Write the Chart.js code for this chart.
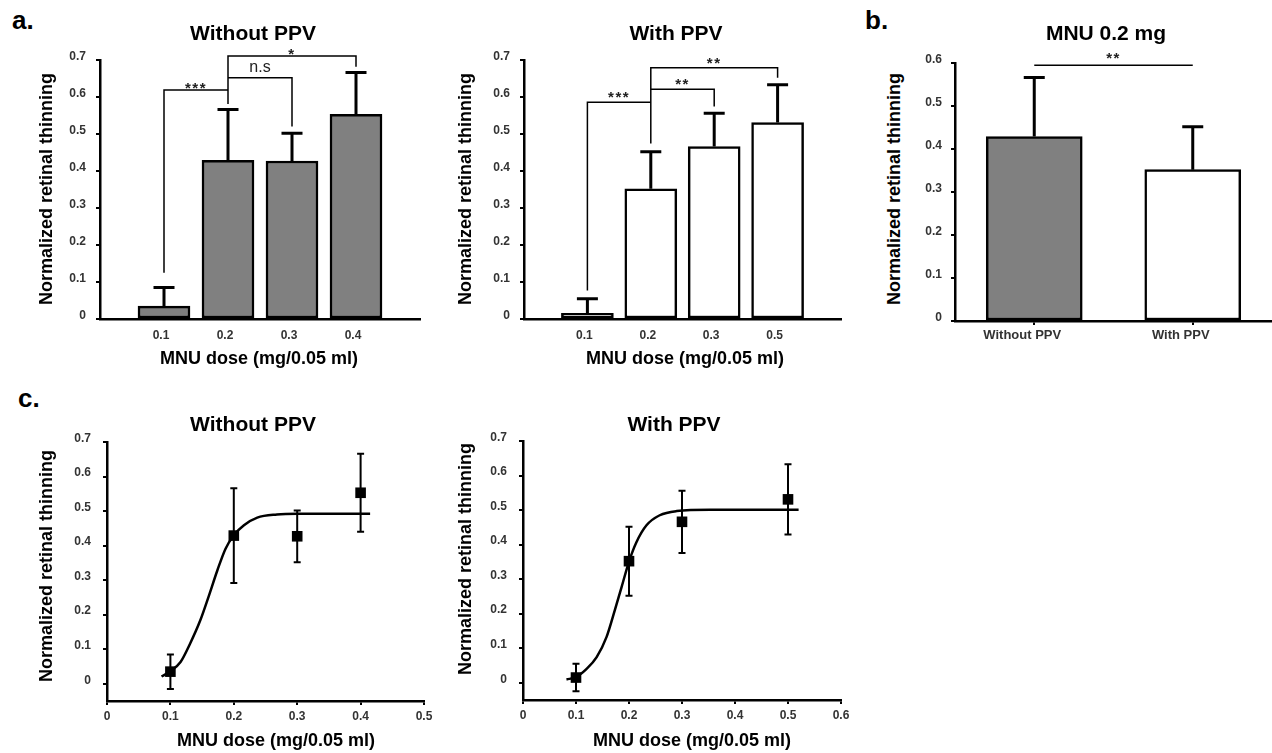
<!DOCTYPE html>
<html>
<head>
<meta charset="utf-8">
<script src="https://cdn.jsdelivr.net/npm/chart.js@4.4.1/dist/chart.umd.min.js"></script>
<style>
html,body{margin:0;padding:0;background:#fff;overflow:hidden;width:1272px;height:753px}
#wrap{position:relative;width:1272px;height:753px;background:#fff}
canvas{position:absolute}
.t{position:absolute;white-space:nowrap;font-family:'Liberation Sans',Arial,sans-serif;font-weight:bold;color:#000;line-height:1;transform:translate(-50%,-50%)}
.lt{transform:translate(0,-50%)}
.r{transform:translate(-50%,-50%) rotate(-90deg)}
</style>
</head>
<body>
<div id="wrap">
<canvas id="a1"></canvas>
<canvas id="a2"></canvas>
<canvas id="b1"></canvas>
<canvas id="c1"></canvas>
<canvas id="c2"></canvas>

<div class="t lt" style="left:12px;top:20px;font-size:26px">a.</div>
<div class="t lt" style="left:865px;top:20px;font-size:26px">b.</div>
<div class="t lt" style="left:18px;top:398px;font-size:26px">c.</div>

<div class="t" style="left:253px;top:32px;font-size:21px">Without PPV</div>
<div class="t" style="left:676px;top:32px;font-size:21px">With PPV</div>
<div class="t" style="left:1106px;top:32px;font-size:21px">MNU 0.2 mg</div>
<div class="t" style="left:253px;top:423px;font-size:21px">Without PPV</div>
<div class="t" style="left:674px;top:423px;font-size:21px">With PPV</div>

<div class="t r" style="left:45.5px;top:189px;font-size:18px">Normalized retinal thinning</div>
<div class="t r" style="left:465px;top:189px;font-size:18px">Normalized retinal thinning</div>
<div class="t r" style="left:894px;top:189px;font-size:18px">Normalized retinal thinning</div>
<div class="t r" style="left:45.5px;top:566px;font-size:18px">Normalized retinal thinning</div>
<div class="t r" style="left:465px;top:559px;font-size:18px">Normalized retinal thinning</div>

<div class="t" style="left:259px;top:358px;font-size:18px">MNU dose (mg/0.05 ml)</div>
<div class="t" style="left:685px;top:358px;font-size:18px">MNU dose (mg/0.05 ml)</div>
<div class="t" style="left:276px;top:740px;font-size:18px">MNU dose (mg/0.05 ml)</div>
<div class="t" style="left:692px;top:740px;font-size:18px">MNU dose (mg/0.05 ml)</div>
</div>

<script>
// ---------------- data ----------------
const doseLabelsWithout = ['0.1', '0.2', '0.3', '0.4'];
const doseLabelsWith = ['0.1', '0.2', '0.3', '0.5'];
const doseWithout = [0.1, 0.2, 0.3, 0.4];
const doseWith = [0.1, 0.2, 0.3, 0.5];
const meanWithout = [0.035, 0.429, 0.427, 0.553];
const errWithout = [0.05, 0.137, 0.075, 0.113];
const meanWith = [0.015, 0.352, 0.466, 0.531];
const errWith = [0.04, 0.10, 0.09, 0.102];
const groupLabels = ['Without PPV', 'With PPV'];

const yTicksA = [0, 0.1, 0.2, 0.3, 0.4, 0.5, 0.6, 0.7];
const yTicksB = [0, 0.1, 0.2, 0.3, 0.4, 0.5, 0.6];
const xTicksC1 = [0, 0.1, 0.2, 0.3, 0.4, 0.5];
const xTicksC2 = [0, 0.1, 0.2, 0.3, 0.4, 0.5, 0.6];

// fitted curves
const fitWithoutX = [0.086, 0.100, 0.116, 0.131, 0.147, 0.160, 0.174, 0.187, 0.200, 0.216, 0.237, 0.268, 0.300, 0.350, 0.415];
const fitWithoutY = [0.021, 0.036, 0.063, 0.116, 0.183, 0.251, 0.328, 0.391, 0.430, 0.459, 0.481, 0.490, 0.492, 0.492, 0.492];
const fitWithX = [0.082, 0.0995, 0.120, 0.139, 0.1575, 0.173, 0.186, 0.200, 0.214, 0.233, 0.258, 0.290, 0.353, 0.520];
const fitWithY = [0.0096, 0.016, 0.040, 0.074, 0.132, 0.209, 0.277, 0.351, 0.407, 0.456, 0.485, 0.497, 0.501, 0.501];

// significance brackets
const sigWithout = [
  {from: '0.1', to: '0.2', base: 0.125, top: 0.619, end: 0.619, text: '***'},
  {from: '0.2', to: '0.3', base: 0.652, top: 0.652, end: 0.520, text: 'n.s'},
  {from: '0.2', to: '0.4', base: 0.581, top: 0.711, end: 0.682, text: '*'}
];
const sigWith = [
  {from: '0.1', to: '0.2', base: 0.077, top: 0.586, end: 0.586, text: '***'},
  {from: '0.2', to: '0.3', base: 0.621, top: 0.621, end: 0.574, text: '**'},
  {from: '0.2', to: '0.5', base: 0.474, top: 0.679, end: 0.652, text: '**'}
];
const sigGroups = [
  {from: 'Without PPV', to: 'With PPV', base: 0.595, top: 0.595, end: 0.595, text: '**'}
];

// ---------------- layout / style ----------------
const FONT = "'Liberation Sans', Arial, sans-serif";
Chart.defaults.font.family = FONT;
const TICK_COLOR = '#333';
const GRAY = '#808080';

const layout = {
  a1: {l: 100, t: 60, r: 420, b: 319, padT: 50, padR: 8, wy: 50, hx: 30},
  a2: {l: 524, t: 60, r: 841, b: 319, padT: 50, padR: 8, wy: 50, hx: 30},
  b1: {l: 955, t: 63, r: 1272, b: 321, padT: 50, padR: 0, wy: 50, hx: 30},
  c1: {l: 107, t: 442, r: 424, b: 701, padT: 10, padR: 12, wy: 50, hx: 30},
  c2: {l: 523, t: 441, r: 841, b: 700, padT: 10, padR: 12, wy: 50, hx: 30}
};

function placeCanvas(id) {
  const g = layout[id];
  const c = document.getElementById(id);
  const w = (g.r - g.l) + g.wy + g.padR;
  const h = (g.b - g.t) + g.padT + g.hx;
  c.width = w; c.height = h;
  c.style.width = w + 'px'; c.style.height = h + 'px';
  c.style.left = (g.l - g.wy) + 'px';
  c.style.top = (g.t - g.padT) + 'px';
  return c;
}

const marks = {
  id: 'marks',
  afterDatasetsDraw(chart, args, o) {
    const ctx = chart.ctx, xs = chart.scales.x, ys = chart.scales.y;
    const labels = chart.data.labels || [];
    const px = v => typeof v === 'string' ? xs.getPixelForValue(labels.indexOf(v)) : xs.getPixelForValue(v);
    ctx.save();
    ctx.strokeStyle = '#000';
    ctx.lineCap = 'butt';
    if (o.err) {
      const e = o.err;
      ctx.lineWidth = e.lw;
      e.x.forEach((xv, i) => {
        const x = px(xv);
        const yTop = ys.getPixelForValue(e.y[i] + e.e[i]);
        const yBot = ys.getPixelForValue(e.both ? e.y[i] - e.e[i] : e.y[i]);
        ctx.beginPath();
        ctx.moveTo(x, yBot); ctx.lineTo(x, yTop);
        ctx.moveTo(x - e.cap / 2, yTop); ctx.lineTo(x + e.cap / 2, yTop);
        if (e.both) { ctx.moveTo(x - e.cap / 2, yBot); ctx.lineTo(x + e.cap / 2, yBot); }
        ctx.stroke();
      });
    }
    if (o.sig) {
      ctx.lineWidth = o.sigLw;
      ctx.lineJoin = 'miter';
      o.sig.forEach(s => {
        const x1 = px(s.from), x2 = px(s.to);
        const yb = ys.getPixelForValue(s.base), yt = ys.getPixelForValue(s.top), ye = ys.getPixelForValue(s.end);
        ctx.beginPath();
        ctx.moveTo(x1, yb); ctx.lineTo(x1, yt); ctx.lineTo(x2, yt); ctx.lineTo(x2, ye);
        ctx.stroke();
        const star = /^\*+$/.test(s.text);
        ctx.fillStyle = '#222';
        ctx.textAlign = 'center';
        ctx.textBaseline = 'alphabetic';
        if (star) {
          ctx.font = 'bold 15px ' + FONT;
          ctx.letterSpacing = '1.5px';
          ctx.fillText(s.text, (x1 + x2) / 2, yt - o.gap + 0.57 * 15);
        } else {
          ctx.font = '16px ' + FONT;
          ctx.letterSpacing = '0px';
          ctx.fillText(s.text, (x1 + x2) / 2, yt - o.gap);
        }
      });
    }
    ctx.restore();
  }
};

function yAxis(id, min, max, ticks, pad, tickLen) {
  const g = layout[id];
  return {
    type: 'linear', min, max,
    afterBuildTicks: s => { s.ticks = ticks.map(v => ({value: v})); },
    afterFit: s => { s.width = g.wy; s.paddingTop = 0; s.paddingBottom = 0; },
    ticks: {callback: v => String(v), font: {size: 12, weight: 'bold'}, color: TICK_COLOR, padding: pad, labelOffset: -3.5},
    grid: {display: true, drawOnChartArea: false, drawTicks: true, tickLength: tickLen, color: '#000', lineWidth: 2},
    border: {display: true, color: '#000', width: 2.5}
  };
}

function xAfterFit(id) {
  const g = layout[id];
  return s => { s.height = g.hx; s.paddingLeft = 0; s.paddingRight = 0; };
}

function commonOpts(id) {
  const g = layout[id];
  return {
    responsive: false, animation: false, devicePixelRatio: 1,
    layout: {padding: {top: g.padT, right: g.padR, left: 0, bottom: 0}},
  };
}

function barPanel(id, doseLabels, means, errs, fill, sig, gap) {
  const labels = [''].concat(doseLabels, ['']);
  const data = [null].concat(means, [null]);
  const c = placeCanvas(id);
  return new Chart(c, {
    type: 'bar',
    data: {labels, datasets: [{data, backgroundColor: fill, borderColor: '#000', borderWidth: 2.5, borderSkipped: false, barThickness: 52}]},
    options: Object.assign(commonOpts(id), {
      scales: {
        x: {type: 'category', offset: false,
            afterFit: xAfterFit(id),
            grid: {display: false, drawTicks: false, offset: false},
            border: {display: true, color: '#000', width: 2.5},
            ticks: {font: {size: 12, weight: 'bold'}, color: TICK_COLOR, padding: 9, labelOffset: -3, maxRotation: 0, minRotation: 0, autoSkip: false}},
        y: yAxis(id, 0, 0.7, yTicksA, 10, 4)
      },
      plugins: {
        legend: {display: false}, tooltip: {enabled: false},
        marks: {err: {x: doseLabels, y: means, e: errs, both: false, cap: 21, lw: 3}, sig, sigLw: 1.5, gap}
      }
    }),
    plugins: [marks]
  });
}

barPanel('a1', doseLabelsWithout, meanWithout, errWithout, GRAY, sigWithout, 5.5);
barPanel('a2', doseLabelsWith, meanWith, errWith, '#fff', sigWith, 8.5);

// panel b
(function () {
  const id = 'b1';
  const c = placeCanvas(id);
  const means = [meanWithout[1], meanWith[1]];
  const errs = [errWithout[1], errWith[1]];
  new Chart(c, {
    type: 'bar',
    data: {labels: groupLabels, datasets: [{data: means, backgroundColor: [GRAY, '#fff'], borderColor: '#000', borderWidth: 2.5, borderSkipped: false, barThickness: 96}]},
    options: Object.assign(commonOpts(id), {
      scales: {
        x: {type: 'category', offset: true,
            afterFit: xAfterFit(id),
            grid: {display: true, drawOnChartArea: false, drawTicks: true, tickLength: 4, color: '#000', lineWidth: 2, offset: false},
            border: {display: true, color: '#000', width: 2.5},
            ticks: {font: {size: 13, weight: 'bold'}, color: TICK_COLOR, padding: 3, labelOffset: -12, maxRotation: 0, minRotation: 0, autoSkip: false}},
        y: yAxis(id, 0, 0.6, yTicksB, 9, 4)
      },
      plugins: {
        legend: {display: false}, tooltip: {enabled: false},
        marks: {err: {x: groupLabels, y: means, e: errs, both: false, cap: 21, lw: 3}, sig: sigGroups, sigLw: 1.5, gap: 10.5}
      }
    }),
    plugins: [marks]
  });
})();

function curvePanel(id, xmax, xTicks, doses, means, errs, fitX, fitY) {
  const c = placeCanvas(id);
  new Chart(c, {
    type: 'line',
    data: {datasets: [
      {data: fitX.map((x, i) => ({x, y: fitY[i]})), borderColor: '#000', borderWidth: 2.5, pointRadius: 0, cubicInterpolationMode: 'monotone', fill: false},
      {data: doses.map((x, i) => ({x, y: means[i]})), showLine: false, pointStyle: 'rect', pointRadius: 7.5, backgroundColor: '#000', borderWidth: 0}
    ]},
    options: Object.assign(commonOpts(id), {
      scales: {
        x: {type: 'linear', min: 0, max: xmax,
            afterBuildTicks: s => { s.ticks = xTicks.map(v => ({value: v})); },
            afterFit: xAfterFit(id),
            grid: {display: true, drawOnChartArea: false, drawTicks: true, tickLength: 4, color: '#000', lineWidth: 2},
            border: {display: true, color: '#000', width: 2.5},
            ticks: {callback: v => String(v), font: {size: 12, weight: 'bold'}, color: TICK_COLOR, padding: 4, maxRotation: 0, minRotation: 0, autoSkip: false}},
        y: yAxis(id, -0.05, 0.7, yTicksA, 12, 4)
      },
      plugins: {
        legend: {display: false}, tooltip: {enabled: false},
        marks: {err: {x: doses, y: means, e: errs, both: true, cap: 7, lw: 2}}
      }
    }),
    plugins: [marks]
  });
}

curvePanel('c1', 0.5, xTicksC1, doseWithout, meanWithout, errWithout, fitWithoutX, fitWithoutY);
curvePanel('c2', 0.6, xTicksC2, doseWith, meanWith, errWith, fitWithX, fitWithY);
</script>
</body>
</html>
